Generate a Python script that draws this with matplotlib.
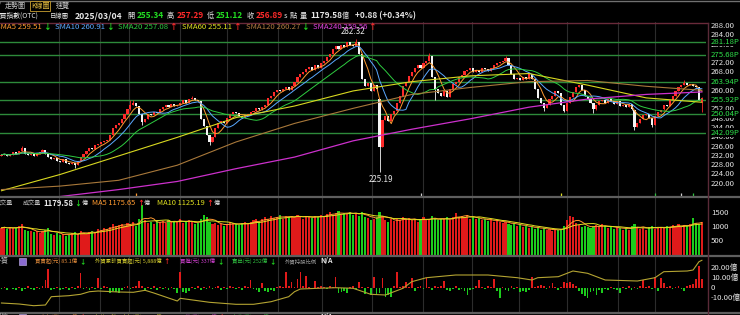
import matplotlib.pyplot as plt
import numpy as np
import pandas as pd
from matplotlib.lines import Line2D
from matplotlib.patches import Rectangle

plt.rcParams['font.family'] = ['Noto Sans CJK TC', 'DejaVu Sans']

W, H = 740, 315

# ---- daily candles (OTC index) ----
closes = [
    232.5, 233.0, 232.0, 232.5, 233.5, 233.0, 234.0, 235.5, 233.0, 232.5,
    233.0, 232.0, 233.0, 233.5, 234.5, 233.0, 231.5, 230.5, 231.0, 230.0,
    229.5, 230.5, 229.0, 228.5, 229.0, 228.0, 230.0, 231.5, 233.0, 234.0,
    235.5, 235.0, 236.5, 237.0, 238.0, 238.5, 239.0, 241.0, 244.0, 245.5,
    246.0, 248.0, 250.0, 252.0, 254.0, 255.0, 253.5, 250.0, 246.5, 248.0,
    250.0, 249.5, 251.0, 250.5, 252.0, 253.0, 254.0, 253.0, 254.5, 253.5,
    254.0, 255.0, 256.0, 255.0, 256.5, 257.0, 256.0, 255.5, 248.0, 245.0,
    241.0, 238.0, 240.0, 244.0, 246.0, 247.0, 246.0, 248.5, 250.0, 251.0,
    250.5, 249.0, 248.5, 249.5, 250.0, 251.0, 251.5, 252.5, 252.0, 253.0,
    254.0, 257.0, 258.0, 259.5, 260.5, 260.0, 261.0, 261.5, 260.5, 262.0,
    264.0, 266.0, 267.5, 268.0, 269.5, 270.5, 269.0, 271.0, 270.0, 272.0,
    273.0, 274.5, 276.0, 278.0, 279.5, 278.0, 280.0, 279.0, 281.0, 280.0,
    279.5, 281.0, 276.0, 265.0, 262.0, 263.5, 260.0, 262.5, 261.0, 236.0,
    247.5, 249.0, 247.0, 250.0, 251.5, 255.0, 258.0, 262.0, 264.0, 266.5,
    268.0, 270.0, 271.0, 270.0, 272.0, 273.0, 275.0, 266.0, 261.0, 259.0,
    258.0, 260.0, 257.5, 261.0, 263.0, 264.0, 266.0, 267.0, 268.5, 269.0,
    270.0, 268.0, 269.0, 268.0, 270.0, 269.5, 268.5, 270.0, 271.0, 272.0,
    272.5, 273.0, 274.0, 271.0, 267.5, 265.0, 265.5, 264.5, 266.0, 265.0,
    267.5, 265.0, 261.0, 257.0, 255.0, 252.5, 254.0, 256.5, 258.0, 260.0,
    259.0, 254.0, 251.5, 255.0, 257.5, 259.5, 261.5, 262.5, 260.5, 258.0,
    256.5, 255.0, 252.0, 254.0, 255.5, 256.0, 255.0, 256.5, 255.5, 254.5,
    255.5, 253.5, 254.0, 253.0, 254.5, 252.0, 244.5, 246.0, 248.0, 249.5,
    250.0, 248.5, 245.5, 249.0, 251.0, 252.0, 254.0, 253.5, 256.0, 258.0,
    260.0, 261.5, 262.5, 263.5, 262.5, 263.0, 262.0, 261.5, 256.01, 256.89,
]
opens = [
    232.0, 232.5, 233.0, 232.0, 232.5, 233.5, 233.0, 234.0, 235.5, 233.0,
    232.5, 233.0, 232.0, 233.0, 233.5, 234.5, 233.0, 231.5, 230.5, 231.0,
    230.0, 229.5, 230.5, 229.0, 228.5, 229.0, 228.0, 230.0, 231.5, 233.0,
    234.0, 235.5, 235.0, 236.5, 237.0, 238.0, 238.5, 239.0, 241.0, 244.0,
    245.5, 246.0, 248.0, 250.0, 252.0, 254.0, 255.0, 253.5, 250.0, 246.5,
    248.0, 250.0, 249.5, 251.0, 250.5, 252.0, 253.0, 254.0, 253.0, 254.5,
    253.5, 254.0, 255.0, 256.0, 255.0, 256.5, 257.0, 256.0, 255.5, 248.0,
    245.0, 241.0, 238.0, 240.0, 244.0, 246.0, 247.0, 246.0, 248.5, 250.0,
    251.0, 250.5, 249.0, 248.5, 249.5, 250.0, 251.0, 251.5, 252.5, 252.0,
    253.0, 254.0, 257.0, 258.0, 259.5, 260.5, 260.0, 261.0, 261.5, 260.5,
    262.0, 264.0, 266.0, 267.5, 268.0, 269.5, 270.5, 269.0, 271.0, 270.0,
    272.0, 273.0, 274.5, 276.0, 278.0, 279.5, 278.0, 280.0, 279.0, 281.0,
    280.0, 279.5, 281.0, 276.0, 265.0, 262.0, 263.5, 260.0, 262.5, 256.5,
    236.0, 247.5, 249.0, 247.0, 250.0, 251.5, 255.0, 258.0, 262.0, 264.0,
    266.5, 268.0, 270.0, 271.0, 270.0, 272.0, 273.0, 275.0, 266.0, 261.0,
    259.0, 258.0, 260.0, 257.5, 261.0, 263.0, 264.0, 266.0, 267.0, 268.5,
    269.0, 270.0, 268.0, 269.0, 268.0, 270.0, 269.5, 268.5, 270.0, 271.0,
    272.0, 272.5, 273.0, 274.0, 271.0, 267.5, 265.0, 265.5, 264.5, 266.0,
    265.0, 267.5, 265.0, 261.0, 257.0, 255.0, 252.5, 254.0, 256.5, 258.0,
    260.0, 259.0, 254.0, 251.5, 255.0, 257.5, 259.5, 261.5, 262.5, 260.5,
    258.0, 256.5, 255.0, 252.0, 254.0, 255.5, 256.0, 255.0, 256.5, 255.5,
    254.5, 255.5, 253.5, 254.0, 253.0, 254.5, 252.0, 244.5, 246.0, 248.0,
    249.5, 250.0, 248.5, 245.5, 249.0, 251.0, 252.0, 254.0, 253.5, 256.0,
    258.0, 260.0, 261.5, 262.5, 263.5, 262.5, 263.0, 262.0, 261.5, 255.34,
]
# wicks that stick out beyond the bodies
hi_idx = [7, 14, 44, 45, 65, 121, 146, 172, 233, 239]
hi_val = [236.2, 235.0, 256.0, 256.3, 257.8, 282.32, 276.3, 275.0, 264.6, 257.29]
lo_idx = [25, 48, 71, 129, 148, 185, 192, 202, 216, 222, 239]
lo_val = [227.0, 245.5, 236.5, 225.19, 256.0, 251.5, 250.8, 250.3, 243.0, 244.3, 251.12]

# long moving averages, read every 20 sessions
ma_idx = [0, 20, 40, 60, 80, 100, 120, 140, 160, 180, 200, 220, 239]
sma60 = [217.0, 224.0, 232.0, 240.0, 248.5, 253.5, 260.0, 264.0, 266.5, 267.5, 262.5, 257.0, 255.11]
sma120 = [217.5, 219.0, 221.5, 228.0, 238.0, 246.0, 252.5, 258.5, 261.5, 264.0, 264.5, 262.0, 260.27]
sma240 = [211.0, 214.5, 217.5, 221.0, 226.5, 231.5, 238.5, 243.5, 248.0, 253.0, 256.5, 258.5, 259.56]

levels = [281.18, 275.68, 263.94, 255.92, 250.04, 242.09]
price_ticks = [220, 224, 228, 232, 236, 240, 244, 248, 252, 256, 260, 264, 268, 272, 276, 280, 284, 288]

# ---- volume (億) ----
volumes = [
    980, 1020, 940, 1000, 960, 990, 1050, 1100, 900, 870,
    850, 820, 880, 790, 860, 900, 980, 760, 740, 780,
    720, 760, 700, 740, 780, 820, 750, 880, 790, 760,
    840, 880, 820, 950, 900, 980, 940, 1020, 1100, 1050,
    1080, 1120, 1060, 1150, 1100, 1180, 1050, 1300, 1800, 1250,
    1150, 1200, 1100, 1250, 1180, 1220, 1150, 1260, 1200, 1240,
    1180, 1300, 1150, 1200, 1250, 1180, 1100, 1150, 1300, 1450,
    1350, 1200, 1100, 1150, 1080, 1120, 1050, 1100, 1180, 1150,
    1100, 1080, 1150, 1200, 1120, 1180, 1250, 1300, 1200, 1280,
    1350, 1300, 1400, 1320, 1380, 1450, 1300, 1420, 1350, 1400,
    1380, 1450, 1350, 1300, 1420, 1380, 1320, 1400, 1350, 1450,
    1400, 1480, 1550, 1450, 1500, 1580, 1450, 1520, 1480, 1560,
    1450, 1500, 1400, 1550, 1380, 1320, 1250, 1300, 1350, 1550,
    1400, 1250, 1200, 1280, 1220, 1300, 1250, 1350, 1280, 1320,
    1250, 1300, 1200, 1280, 1350, 1250, 1300, 1400, 1320, 1250,
    1280, 1300, 1350, 1250, 1380, 1500, 1350, 1420, 1380, 1450,
    1300, 1350, 1280, 1320, 1250, 1300, 1220, 1280, 1200, 1250,
    1180, 1150, 1200, 1120, 1080, 1150, 1050, 1100, 1000, 1050,
    980, 1020, 950, 1000, 920, 960, 900, 940, 880, 920,
    900, 950, 1050, 1250, 1400, 1350, 1150, 1080, 1000, 1050,
    1020, 980, 1050, 1080, 1000, 1100, 1050, 980, 1020, 950,
    1000, 960, 920, 980, 900, 1050, 1100, 1000, 950, 980,
    920, 1000, 1050, 950, 980, 1020, 980, 1050, 1000, 1080,
    1050, 1100, 1020, 1080, 1050, 1100, 1340, 1150, 1100, 1179.58,
]
vol_ticks = [500, 1000, 1500]

# ---- foreign investors net buy/sell (億) ----
foreign = [
    -1, 1, -2, 0.5, -1, -2, 1, -3, -1, 2,
    -1, -2, 1, -1, 2, 8, 19, -2, -1, 1,
    -2, -1, 1, -2, 1, -1, 2, 15, -1, 1,
    -2, 1, -1, 10.7, -1, 2, 1, -5, -3, -4,
    -5, -2, 1, 2, -1, 1, 2, 7, 2, -3,
    1, -1, 2, -2, 1, -1, 1, -2, 1, -1,
    -5, 16.7, -4, -5, -3, 1, -1, 2, -2, 1,
    -1, 2, -1, 1, 2, -2, 1, -1, 2, 1,
    -1, 1, -2, 2, 1, 8, -1, -2, -4, 5,
    -3, -4, -2, -3, 1, 2, 1, 16.7, 2, 6.7,
    1, 9.3, 16.7, 2, 12, 1, -1, 7, 1, 2,
    1, -1, 2, 1, 11.7, -5, -4, -3, -5, 1,
    2, -1, 6.7, 1, -6, 1, -6.7, 11.7, -6, -5,
    10.7, -8.3, -7, -8.3, 2, 16.7, 1, 2, 6, 1,
    10, -3, 1, 2, -1, 10.7, 1, -2, 2, 1,
    2, 7, -2, -3, -1, 2, -2, -1, -3, -6.7,
    -2, -1, 2, 8.3, 1, -1, 2, 1, 9.3, -3,
    -10, 1, -2, -3, 2, -1, 1, -4, -3, -4,
    -2, 11.7, 1, 2, 3, 2, -1, 2, 5, 1,
    -2, 1, 6, 5, 6, 4, 2, -3, -6, -8,
    -10, -4, -3, -7, -2, -5, -1, -2, 1, -1,
    -2, -5, 1, -1, 2, -2, 1, -1, 2, 8.3,
    1, 2, -1, 11.7, -3, 10, 5, 1, 2, -1,
    1, 2, -1, -3, 2, 3, 4, 9.3, 22.3, 9.3,
]
cum_idx = [0, 6, 11, 15, 17, 23, 27, 30, 33, 40, 45, 49, 52, 60, 61, 71, 80, 86, 92, 98,
           100, 102, 108, 114, 120, 126, 131, 137, 140, 145, 155, 160, 166, 176, 181, 183,
           190, 195, 200, 206, 217, 223, 226, 234, 236, 238, 239]
cum_val = [-14.7, -15.7, -17.4, -16.7, -8.4, -7.4, -6.0, -3.4, -2.7, -3.7, -4.0, -2.0, -4.7,
           -12.7, -10.0, -14.0, -16.0, -16.0, -13.4, -8.4, -3.4, -0.7, 0.0, 0.6, 0.0, -6.0,
           -6.7, 0.0, 6.6, 10.6, 13.3, 13.3, 13.3, 10.6, 8.3, 10.6, 11.6, 17.3, 15.0, 8.3,
           7.3, 10.6, 16.6, 17.3, 18.3, 26.6, 28.0]
foreign_ticks = [20, 10, 0, -10]
foreign_labels = ['20.00億', '10.00億', '0', '-10.00億']

# vertical separators (session index) and small event markers
grid_idx = [19.5, 33.5, 43.5, 61, 77, 94.5, 109.5, 126.5, 144, 160.5, 176.5, 193, 210.5, 223]
event_idx = [46, 143, 191, 223, 232, 236]
event_col = ['#ff9a30', '#d0d0d0', '#e0e020', '#30c040', '#d0d0d0', '#30c040']

RED = '#ff2a2a'
GRN = '#22dd22'
WHT = '#e6e6e6'

o = np.array(opens)
c = np.array(closes)
n = len(c)
x = np.arange(n)
hi = np.maximum(o, c)
lo = np.minimum(o, c)
hi[hi_idx] = np.maximum(hi[hi_idx], hi_val)
lo[lo_idx] = np.minimum(lo[lo_idx], lo_val)
up = c >= o

fig = plt.figure(figsize=(W / 100, H / 100), dpi=100, facecolor='black')
renderer = fig.canvas.get_renderer()


def box(x0, y0, x1, y1):
    return [x0 / W, 1 - y1 / H, (x1 - x0) / W, (y1 - y0) / H]


def txt(px, py, s, color=WHT, size=5.6, weight='normal', ha='left', **kw):
    return fig.text(px / W, 1 - py / H, s, color=color, fontsize=size, fontweight=weight,
                    ha=ha, va='center', **kw)


def run(px, py, parts, gap=2):
    # parts: (text, color, size, weight, extra gap after)
    for s, col, size, weight, after in parts:
        t = txt(px, py, s, col, size, weight)
        px = t.get_window_extent(renderer).x1 + gap + after


def hline(py, x0, x1, color, lw=1.0):
    fig.add_artist(Line2D([x0 / W, x1 / W], [1 - py / H, 1 - py / H], color=color, lw=lw,
                          transform=fig.transFigure))


ax = fig.add_axes(box(0, 22, 706, 197))
axv = fig.add_axes(box(0, 197, 706, 256))
axf = fig.add_axes(box(0, 256, 706, 312))
for a in (ax, axv, axf):
    a.set_facecolor('black')
    a.set_xlim(-0.5, 240.4)
    a.set_xticks([])
    a.set_yticks([])
    for sp in a.spines.values():
        sp.set_visible(False)
    for g in grid_idx:
        a.axvline(g, color='#2c2c2c', lw=0.8, zorder=0)

# ---- price panel ----
ax.set_ylim(214.3, 289.7)
for lv in levels:
    ax.axhline(lv, color='#2d8a3a', lw=1.0, zorder=1)
col = np.where(up, RED, '#f4f4f4')
ax.vlines(x, lo, hi, colors=col, lw=0.6, zorder=3)
ax.bar(x, np.maximum(np.abs(c - o), 0.25), bottom=np.minimum(o, c), width=0.72,
       color=col, lw=0, zorder=4)

s = pd.Series(closes)
ax.plot(x, s.rolling(5, min_periods=1).mean(), color='#ff9a30', lw=0.7, zorder=5)
ax.plot(x, s.rolling(10, min_periods=1).mean(), color='#5aa8ff', lw=0.7, zorder=5)
ax.plot(x, s.rolling(20, min_periods=1).mean(), color='#2ecc40', lw=0.7, zorder=5)
ax.plot(ma_idx, sma60, color='#d8d820', lw=0.8, zorder=5)
ax.plot(ma_idx, sma120, color='#a8783a', lw=0.8, zorder=5)
ax.plot(ma_idx, sma240, color='#cc30cc', lw=0.9, zorder=5)

ax.vlines(event_idx, 214.3, 215.9, colors=event_col, lw=0.9, zorder=6)

ax.annotate('282.32', (120, 282.32), xytext=(0, 2), textcoords='offset points',
            ha='center', va='bottom', color=WHT, fontsize=5.8)
ax.annotate('225.19', (129.5, 225.19), xytext=(0, -2), textcoords='offset points',
            ha='center', va='top', color=WHT, fontsize=5.8)

yt = ax.get_yaxis_transform()
for p in price_ticks:
    ax.text(1.007, p, f'{p:.2f}', transform=yt, color=WHT, fontsize=5.6, va='center',
            ha='left', clip_on=False)
for lv in levels:
    ax.text(1.007, lv, f'{lv:.2f}P', transform=yt, color='#2ee04a', fontsize=5.6,
            va='center', ha='left', clip_on=False,
            bbox=dict(facecolor='black', edgecolor='none', pad=0.2))

# ---- volume panel ----
axv.set_ylim(-25, 2082)
vcol = np.where(up, '#e01a1a', '#1ccc1c')
axv.bar(x, volumes, width=0.72, color=vcol, lw=0, zorder=2)
vs = pd.Series(volumes)
axv.plot(x, vs.rolling(5, min_periods=1).mean(), color='#ff9a30', lw=0.7, zorder=3)
axv.plot(x, vs.rolling(10, min_periods=1).mean(), color='#e0e020', lw=0.7, zorder=3)
vt = axv.get_yaxis_transform()
for v in vol_ticks:
    axv.text(1.007, v, str(v), transform=vt, color=WHT, fontsize=5.6, va='center', clip_on=False)

# ---- foreign investors panel ----
axf.set_ylim(-23.7, 32.3)
fv = np.array(foreign)
axf.bar(x, fv, width=0.6, color=np.where(fv >= 0, '#e01a1a', '#1ccc1c'), lw=0, zorder=2)
axf.plot(cum_idx, cum_val, color='#b4a432', lw=0.8, zorder=3)
ft = axf.get_yaxis_transform()
for v, lab in zip(foreign_ticks, foreign_labels):
    axf.text(1.007, v, lab, transform=ft, color=WHT, fontsize=5.6, va='center', clip_on=False)

# ---- frame lines ----
hline(0.5, 0, 740, '#707070', 1.0)
hline(22.5, 0, 708, '#6a2a3a', 1.0)
hline(197, 0, 740, '#5e5e5e', 1.6)
hline(256, 0, 740, '#5e5e5e', 1.6)
hline(312.5, 0, 740, '#5e5e5e', 1.6)
fig.add_artist(Line2D([708 / W, 708 / W], [1 - 22.5 / H, 0], color='#5a2a38', lw=1.0,
                      transform=fig.transFigure))

# ---- tabs ----
txt(-2, 6, '/', '#a0a0a0', 5.5)
txt(5, 6, '走勢圖', '#c8c8c8', 5.0)
txt(31, 6, 'K線圖', '#e8c040', 5.0,
    bbox=dict(facecolor='black', edgecolor='#c8a030', lw=0.6, pad=0.6))
txt(56, 6, '速覽', '#c8c8c8', 5.0)

# ---- quote line ----
txt(-6, 16, '櫃買指數(OTC)', WHT, 4.9)
txt(50, 16, '日線圖', WHT, 4.6)
txt(75, 16, '2025/03/04', WHT, 6.2, 'bold')
txt(127, 16, '開', WHT, 5.2)
txt(137, 16, '255.34', GRN, 6.0, 'bold')
txt(167, 16, '高', WHT, 5.2)
txt(177, 16, '257.29', RED, 6.0, 'bold')
txt(207, 16, '低', WHT, 5.2)
txt(216, 16, '251.12', GRN, 6.0, 'bold')
txt(247, 16, '收', WHT, 5.2)
txt(256, 16, '256.89', RED, 6.0, 'bold')
txt(284, 16, 's', WHT, 5.4)
txt(290, 16, '點', WHT, 5.2)
txt(300, 16, '量', WHT, 5.2)
txt(310, 16, '1179.58', WHT, 6.0, 'bold')
txt(342, 16, '億', WHT, 5.2)
txt(355, 16, '+0.88 (+0.34%)', WHT, 6.0, 'bold')

# ---- moving average legend ----
legend = [(-4, 'SMA5 259.51', '#ff9a30', '↓', GRN),
          (55, 'SMA10 260.91', '#5aa8ff', '↓', GRN),
          (118, 'SMA20 257.08', '#2ecc40', '↑', RED),
          (182, 'SMA60 255.11', '#e0e020', '↑', RED),
          (246, 'SMA120 260.27', '#b07a40', '↓', GRN),
          (313, 'SMA240 259.56', '#e040e0', '↑', RED)]
for px, lab, lc, arr, ac in legend:
    run(px, 27, [(lab, lc, 5.6, 'normal', 0), (arr, ac, 5.6, 'bold', 0)])

# ---- volume header ----
txt(-5, 203, '成交量', '#bdbdbd', 4.4)
run(23, 203, [('成交量', '#bdbdbd', 4.4, 'normal', 0), ('1179.58', WHT, 5.6, 'bold', 0),
              ('↓', GRN, 5.0, 'bold', -1), ('億', WHT, 4.4, 'normal', 0)], gap=1.5)
run(92, 203, [('MA5 1175.65', '#ff9a30', 5.4, 'normal', 0), ('↑', RED, 5.0, 'bold', -1),
              ('億', WHT, 4.4, 'normal', 0)], gap=1.5)
run(157, 203, [('MA10 1125.19', '#e0e020', 5.4, 'normal', 0), ('↑', RED, 5.0, 'bold', -1),
               ('億', WHT, 4.4, 'normal', 0)], gap=1.5)

# ---- foreign header ----
FS = 3.9
txt(-5, 261, '外資', '#bdbdbd', 5.0)
fig.add_artist(Rectangle((19 / W, 1 - 265 / H), 7 / W, 7 / H, facecolor='#8a6ad0',
                         edgecolor='#c8b8f0', lw=0.4, transform=fig.transFigure))
run(35, 261, [('買賣超(元) 85.1億', '#e08a3a', FS, 'normal', 0), ('↓', GRN, 4.6, 'bold', 0)])
run(95, 261, [('外資累計買賣超(元) 5,888億', '#d8d030', FS, 'normal', 0), ('↑', RED, 4.6, 'bold', 0)])
run(180, 261, [('買進(元) 337億', '#d040d0', FS, 'normal', 0), ('↓', GRN, 4.6, 'bold', 0)])
run(232, 261, [('賣出(元) 252億', '#30c040', FS, 'normal', 0), ('↓', GRN, 4.6, 'bold', 0)])
run(285, 261, [('外資持股比例', '#9a9a9a', FS, 'normal', 1), ('N/A', WHT, 5.0, 'bold', 0)])

# ---- next panel header, cut by the bottom edge ----
txt(-5, 317, '投信', '#bdbdbd', 5.0)
fig.add_artist(Rectangle((19 / W, 1 - 321 / H), 7 / W, 7 / H, facecolor='#8a6ad0',
                         edgecolor='#c8b8f0', lw=0.4, transform=fig.transFigure))
run(35, 317, [('買賣超(元) 4.21億', '#e08a3a', FS, 'normal', 0), ('↑', RED, 4.6, 'bold', 0)])
run(95, 317, [('投信累計買賣超(元) 3,001億', '#d8d030', FS, 'normal', 0), ('↓', GRN, 4.6, 'bold', 0)])
run(180, 317, [('買進(元) 11.0億', '#d040d0', FS, 'normal', 0), ('↑', RED, 4.6, 'bold', 0)])
run(232, 317, [('賣出(元) 12.0億', '#30c040', FS, 'normal', 0), ('↓', GRN, 4.6, 'bold', 0)])
run(285, 317, [('投信持股比例', '#9a9a9a', FS, 'normal', 1), ('N/A', WHT, 5.0, 'bold', 0)])

fig.savefig('out.png', dpi=100, facecolor='black')
